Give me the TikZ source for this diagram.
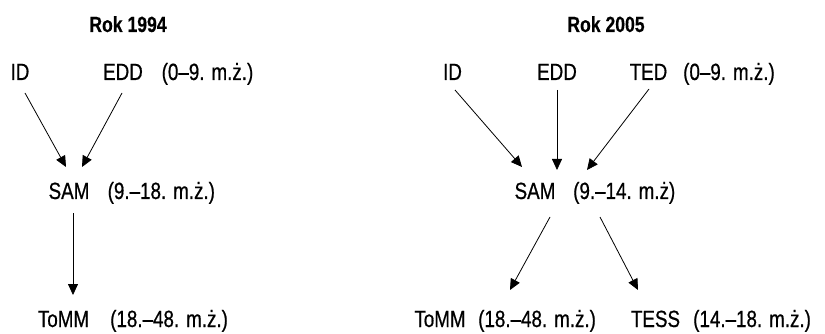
\documentclass[tikz,border=0pt]{standalone}
\usepackage{fontspec}
\setmainfont{Liberation Sans}[FakeStretch=0.8,FakeBold=0.6]
\newfontfamily\titlefont{Liberation Sans}[FakeStretch=0.8,BoldFeatures={FakeBold=0.35}]
\usetikzlibrary{arrows.meta}
\begin{document}
\begin{tikzpicture}[x=1pt,y=-1pt,
  every node/.style={inner sep=0pt,font=\fontsize{23.5}{27}\selectfont},
  word/.style={anchor=base},
  lab/.style={anchor=base west},
  ttl/.style={anchor=base,font=\titlefont\fontsize{22}{26}\selectfont\bfseries},
  arr/.style={line width=0.8pt,-{Triangle[length=11pt,width=10pt]}}]
\useasboundingbox (0,0) rectangle (825,334);
% left
\node[ttl] (ltitle) at (128,32) {Rok 1994};
\node[word] (lid) at (20,80) {ID};
\node[word] (ledd) at (123,80) {EDD};
\node[lab] (leddt) at (161.5,80) {(0–9. m.ż.)};
\node[word] (lsam) at (69,199) {SAM};
\node[lab] (lsamt) at (107.5,199) {(9.–18. m.ż.)};
\node[word] (ltomm) at (63.5,327) {ToMM};
\node[lab] (ltommt) at (110,327) {(18.–48. m.ż.)};
\draw[arr] ([shift={(5,13)}]lid.base) -- ([shift={(-3,-32)}]lsam.base);
\draw[arr] ([shift={(-1,13)}]ledd.base) -- ([shift={(13,-32)}]lsam.base);
\draw[arr] ([shift={(4,14)}]lsam.base) -- ([shift={(9.5,-32)}]ltomm.base);
% right
\node[ttl] (rtitle) at (606,32) {Rok 2005};
\node[word] (rid) at (452.5,80) {ID};
\node[word] (redd) at (557,80) {EDD};
\node[word] (rted) at (648.5,80) {TED};
\node[lab] (rtedt) at (683,80) {(0–9. m.ż.)};
\node[word] (rsam) at (535,199) {SAM};
\node[lab] (rsamt) at (573,199) {(9.–14. m.ż)};
\node[word] (rtomm) at (440,327) {ToMM};
\node[lab] (rtommt) at (478,327) {(18.–48. m.ż.)};
\node[word] (rtess) at (655.5,327) {TESS};
\node[lab] (rtesst) at (693,327) {(14.–18. m.ż.)};
\draw[arr] ([shift={(2.5,10)}]rid.base) -- ([shift={(-13,-32)}]rsam.base);
\draw[arr] ([shift={(0,10)}]redd.base) -- ([shift={(22,-29)}]rsam.base);
\draw[arr] ([shift={(0.5,9)}]rted.base) -- ([shift={(52,-29)}]rsam.base);
\draw[arr] ([shift={(15,18)}]rsam.base) -- ([shift={(70,-37)}]rtomm.base);
\draw[arr] ([shift={(65,18)}]rsam.base) -- ([shift={(-17.5,-37)}]rtess.base);
\end{tikzpicture}
\end{document}
